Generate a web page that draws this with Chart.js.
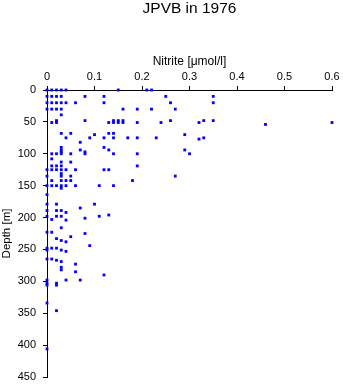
<!DOCTYPE html>
<html>
<head>
<meta charset="utf-8">
<script src="https://cdn.jsdelivr.net/npm/chart.js@4/dist/chart.umd.min.js"></script>
<style>
  html, body { margin: 0; padding: 0; background: #fff; }
  canvas { display: block; }
</style>
</head>
<body>
<canvas id="nitriteCanvas" width="343" height="384"></canvas>
<script>
// station samples, one line per depth level
var depthM = [
    0, 0, 0, 0, 0, 0, 0, 0,
    10, 10, 10, 10, 10, 10, 10, 10,
    20, 20, 20, 20, 20, 20, 20, 20, 20,
    30, 30, 30, 30, 30, 30, 30, 30,
    39,
    48, 48, 48, 48, 48, 48, 48, 48,
    51, 51, 51, 51, 51, 51, 51, 51, 51, 51,
    54,
    68, 68, 68, 68,
    70, 70,
    75, 75, 75, 75, 75, 75, 75, 75,
    77,
    82,
    90, 90,
    94, 94, 94, 94,
    97, 97,
    100, 100, 100, 100, 100, 100, 100, 100,
    108,
    113, 113,
    119, 119, 119, 119,
    125, 125, 125, 125, 125, 125, 125, 125,
    131,
    135, 135, 135, 135,
    142, 142, 142, 142, 142,
    150, 150, 150, 150, 150, 150, 150, 150,
    154, 164,
    179, 179, 179,
    185,
    189, 189, 189,
    192, 196,
    198, 198, 198, 198,
    201, 203, 204, 216,
    223, 223,
    225, 230, 233, 236, 238, 244,
    248, 248, 248,
    251, 251,
    253,
    265, 265,
    267, 269, 273, 278, 282, 285, 290,
    298, 298, 298,
    303, 303,
    306, 306,
    334, 346, 406
];

var nitrite = [
    0, 0.01, 0.02, 0.03, 0.04, 0.15, 0.21, 0.22,
    0, 0.01, 0.02, 0.03, 0.08, 0.12, 0.25, 0.35,
    0, 0.01, 0.02, 0.03, 0.04, 0.06, 0.12, 0.26, 0.35,
    0, 0.01, 0.02, 0.03, 0.16, 0.19, 0.22, 0.27,
    0.03,
    0.02, 0.08, 0.14, 0.15, 0.16, 0.26, 0.33, 0.35,
    0.01, 0.02, 0.13, 0.14, 0.15, 0.16, 0.19, 0.24, 0.32, 0.60,
    0.46,
    0.03, 0.05, 0.13, 0.14,
    0.10, 0.29,
    0.04, 0.09, 0.12, 0.14, 0.17, 0.19, 0.23, 0.33,
    0.32,
    0.07,
    0.03, 0.12,
    0.03, 0.07, 0.13, 0.29,
    0.03, 0.08,
    0.01, 0.02, 0.03, 0.05, 0.08, 0.14, 0.19, 0.30,
    0.01,
    0.03, 0.05,
    0.01, 0.02, 0.03, 0.19,
    0, 0.01, 0.02, 0.03, 0.04, 0.06, 0.12, 0.13,
    0.03,
    0, 0.03, 0.05, 0.27,
    0.01, 0.03, 0.04, 0.05, 0.18,
    0, 0.01, 0.02, 0.03, 0.04, 0.06, 0.11, 0.14,
    0.03, 0,
    0, 0.02, 0.10,
    0.07,
    0, 0.02, 0.03,
    0.04, 0.13,
    0, 0.02, 0.03, 0.11,
    0.08, 0.01, 0.04, 0.03,
    0, 0.01,
    0.08, 0.05, 0.02, 0.03, 0.04, 0.09,
    0, 0.01, 0.02,
    0, 0.03,
    0.04,
    0, 0.01,
    0.02, 0.03, 0.06, 0.03, 0.03, 0.06, 0.12,
    0, 0.04, 0.07,
    0, 0.02,
    0, 0.02,
    0, 0.02, 0
];

var xTicks = [0, 0.1, 0.2, 0.3, 0.4, 0.5, 0.6];
var yTicks = [0, 50, 100, 150, 200, 250, 300, 350, 400, 450];

var points = [];
for (var i = 0; i < depthM.length; i++) {
    points.push({ x: nitrite[i], y: depthM[i] });
}

var fontFamily = "'Liberation Sans', Arial, sans-serif";
var axisFont = { family: fontFamily, size: 11 };

// main heading, centred over the plotting area rather than the canvas
var headingPlugin = {
    id: 'heading',
    afterDraw: function(chart) {
        var ctx = chart.ctx;
        var area = chart.chartArea;
        ctx.save();
        ctx.fillStyle = '#000';
        ctx.font = "15.5px " + fontFamily;
        ctx.textAlign = 'center';
        ctx.textBaseline = 'middle';
        ctx.fillText('JPVB in 1976', (area.left + area.right) / 2, 9);
        ctx.restore();
    }
};

var ctx = document.getElementById('nitriteCanvas');

var myChart = new Chart(ctx, {
    type: 'scatter',
    data: {
        datasets: [{
            data: points,
            backgroundColor: '#0000ff',
            borderWidth: 0,
            pointStyle: 'rect',
            pointRadius: 2,
            pointHoverRadius: 2,
            clip: false
        }]
    },
    options: {
        responsive: false,
        animation: false,
        layout: { padding: { top: 0, left: 0, right: 11, bottom: 7 } },
        plugins: {
            legend: { display: false },
            tooltip: { enabled: false }
        },
        scales: {
            x: {
                type: 'linear',
                position: 'top',
                min: 0,
                max: 0.6,
                afterBuildTicks: function(scale) {
                    scale.ticks = xTicks.map(function(v) { return { value: v }; });
                },
                afterFit: function(scale) { scale.height = 90; },
                ticks: {
                    color: '#000',
                    font: axisFont,
                    padding: 2,
                    maxRotation: 0,
                    callback: function(v) { return String(Math.round(v * 10) / 10); }
                },
                grid: { drawOnChartArea: false, drawTicks: true, tickLength: 4, color: '#000' },
                border: { display: true, color: '#000', width: 1 },
                title: {
                    display: true,
                    text: 'Nitrite [μmol/l]',
                    color: '#000',
                    font: { family: fontFamily, size: 12 },
                    padding: { top: 54, bottom: 0 }
                }
            },
            y: {
                type: 'linear',
                reverse: true,
                min: 0,
                max: 450,
                afterBuildTicks: function(scale) {
                    scale.ticks = yTicks.map(function(v) { return { value: v }; });
                },
                afterFit: function(scale) {
                    scale.width = 47;
                    // keep the end labels from pushing the plot inward
                    scale.paddingTop = 0;
                    scale.paddingBottom = 0;
                },
                ticks: { color: '#000', font: axisFont, padding: 7 },
                grid: { drawOnChartArea: false, drawTicks: true, tickLength: 4, color: '#000' },
                border: { display: true, color: '#000', width: 1 },
                title: {
                    display: true,
                    text: 'Depth [m]',
                    color: '#000',
                    font: { family: fontFamily, size: 11.5 },
                    padding: { top: 0, bottom: 0 }
                }
            }
        }
    },
    plugins: [headingPlugin]
});
</script>
</body>
</html>
